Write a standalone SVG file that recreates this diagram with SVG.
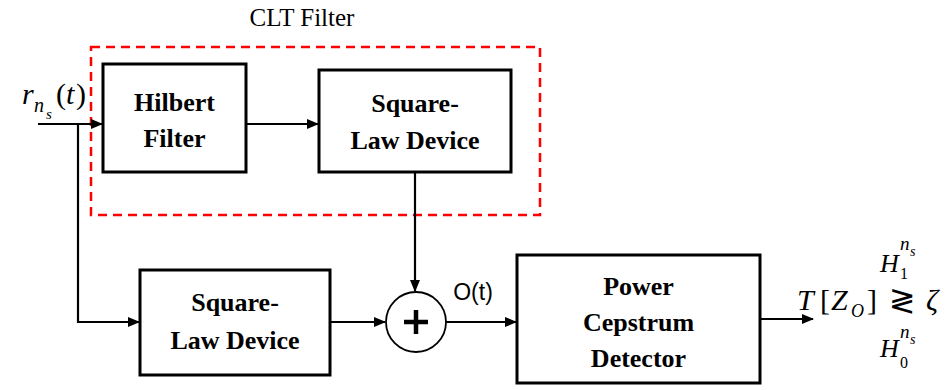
<svg xmlns="http://www.w3.org/2000/svg" width="949" height="390" viewBox="0 0 949 390">
<defs>
<marker id="ah" markerWidth="12" markerHeight="10" refX="11" refY="5" orient="auto" markerUnits="userSpaceOnUse">
<path d="M0,0 L12,5 L0,10 Z" fill="#000"/>
</marker>
<style>
.box{fill:#fff;stroke:#000;stroke-width:3}
.lbl{font-family:'Liberation Serif','Times New Roman','DejaVu Serif',serif;font-weight:bold;font-size:26px;text-anchor:middle;fill:#000}
.ln{fill:none;stroke:#000;stroke-width:2.2}
.math{font-family:'Liberation Serif','DejaVu Serif',serif;font-style:italic;fill:#000}
.up{font-style:normal}
</style>
</defs>
<rect width="949" height="390" fill="#fff"/>
<text x="302" y="26" font-family="'Liberation Serif','DejaVu Serif',serif" font-size="25" text-anchor="middle">CLT Filter</text>
<rect x="91" y="47" width="449" height="168" fill="none" stroke="#f00" stroke-width="2.5" stroke-dasharray="9,6"/>
<g id="connectors">
<path class="ln" d="M38,124 H102" marker-end="url(#ah)"/>
<path class="ln" d="M78,124 V322 H139" marker-end="url(#ah)"/>
<path class="ln" d="M246,124 H318" marker-end="url(#ah)"/>
<path class="ln" d="M415,172 V291" marker-end="url(#ah)"/>
<path class="ln" d="M330,322 H385" marker-end="url(#ah)"/>
<path class="ln" d="M446,322 H516" marker-end="url(#ah)"/>
<path class="ln" d="M760,319 H813" marker-end="url(#ah)"/>
</g>
<g id="input">
<text class="math" x="22" y="104" font-size="30">r</text>
<text class="math" x="34" y="112" font-size="20">n</text>
<text class="math" x="46" y="119" font-size="15">s</text>
<text class="math up" x="56" y="104" font-size="30">(</text>
<text class="math" x="66" y="104" font-size="30">t</text>
<text class="math up" x="76" y="104" font-size="30">)</text>
</g>
<g id="hilbert">
<rect class="box" x="103" y="64" width="143" height="108"/>
<text class="lbl" x="174.5" y="111">Hilbert</text>
<text class="lbl" x="174.5" y="147">Filter</text>
</g>
<g id="sqlaw1">
<rect class="box" x="319" y="70" width="192" height="102"/>
<text class="lbl" x="415" y="112">Square-</text>
<text class="lbl" x="415" y="149">Law Device</text>
</g>
<g id="sqlaw2">
<rect class="box" x="140" y="270" width="190" height="105"/>
<text class="lbl" x="235" y="311">Square-</text>
<text class="lbl" x="235" y="349">Law Device</text>
</g>
<g id="sum">
<circle cx="416" cy="322" r="30" fill="#fff" stroke="#000" stroke-width="1.8"/>
<path d="M416,310 V334 M404,322 H428" stroke="#000" stroke-width="4.5"/>
</g>
<text x="473" y="300" font-family="'Liberation Sans',sans-serif" font-size="23" text-anchor="middle">O(t)</text>
<g id="cepstrum">
<rect class="box" x="517" y="255" width="243" height="128"/>
<text class="lbl" x="638.5" y="295">Power</text>
<text class="lbl" x="638.5" y="331">Cepstrum</text>
<text class="lbl" x="638.5" y="367">Detector</text>
</g>
<g id="output">
<text class="math" x="880" y="272" font-size="26">H</text>
<text class="math up" x="900" y="279" font-size="16">1</text>
<text class="math" x="900" y="250" font-size="19">n</text>
<text class="math" x="910" y="256" font-size="14">s</text>
<text class="math" x="797" y="310" font-size="30">T</text>
<text class="math up" x="820" y="310" font-size="30">[</text>
<text class="math" x="831" y="310" font-size="30">Z</text>
<text class="math" x="851" y="317" font-size="18">O</text>
<text class="math up" x="867" y="310" font-size="30">]</text>
<text x="889" y="311" font-size="32" font-family="'DejaVu Sans',sans-serif">≷</text>
<text class="math" x="926" y="310" font-size="30">ζ</text>
<text class="math" x="880" y="357" font-size="26">H</text>
<text class="math up" x="900" y="368" font-size="16">0</text>
<text class="math" x="900" y="338" font-size="19">n</text>
<text class="math" x="910" y="344" font-size="14">s</text>
</g>
</svg>
